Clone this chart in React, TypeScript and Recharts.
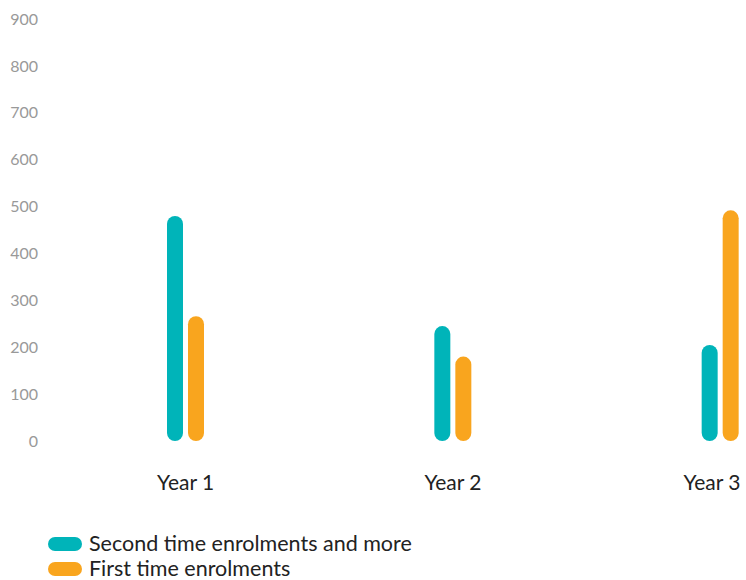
import React from 'react';
import { BarChart, Bar, XAxis, YAxis } from 'recharts';

const years = ['Year 1', 'Year 2', 'Year 3'];
const secondTime = [480, 245, 205];
const firstTime = [266, 180, 492];
const yTicks = [0, 100, 200, 300, 400, 500, 600, 700, 800, 900];

const SERIES = [
  { key: 'secondTime', name: 'Second time enrolments and more', color: '#00b4b9' },
  { key: 'firstTime', name: 'First time enrolments', color: '#f9a51e' },
];

const WIDTH = 746;
const FONT = 'Lato, "Open Sans", sans-serif';

const data = years.map((year, i) => ({
  year,
  secondTime: secondTime[i],
  firstTime: firstTime[i],
}));

// keep the last category label inside the canvas
const YearTick = (props: any) => {
  const { x, y, payload } = props;
  const half = 30;
  const cx = Math.min(x, WIDTH - half - 4);
  return (
    <text
      x={cx}
      y={y}
      dy={41}
      textAnchor="middle"
      fill="#222"
      fontSize={21}
      fontFamily={FONT}
    >
      {payload.value}
    </text>
  );
};

export default function App() {
  return (
    <div style={{ width: WIDTH, height: 580, fontFamily: FONT, overflow: 'hidden' }}>
      <style>{'body{margin:0}'}</style>
      <BarChart
        width={WIDTH}
        height={500}
        data={data}
        margin={{ top: 19, right: -108, left: 0, bottom: 0 }}
        barSize={16}
        barGap={5}
      >
        <YAxis
          domain={[0, 900]}
          ticks={yTicks}
          width={46}
          axisLine={false}
          tickLine={false}
          tick={{ fill: '#999', fontSize: 16, fontFamily: FONT }}
        />
        <XAxis
          dataKey="year"
          height={59}
          axisLine={false}
          tickLine={false}
          padding={{ left: 6, right: 0 }}
          tick={<YearTick />}
          interval={0}
        />
        {SERIES.map((s) => (
          <Bar
            key={s.key}
            dataKey={s.key}
            name={s.name}
            fill={s.color}
            radius={[8, 8, 8, 8]}
            isAnimationActive={false}
          />
        ))}
      </BarChart>
      <div style={{ marginLeft: 48, marginTop: 31 }}>
        {SERIES.map((s) => (
          <div
            key={s.key}
            style={{
              display: 'flex',
              alignItems: 'center',
              height: 25,
              lineHeight: '25px',
              fontSize: 21.5,
              color: '#222',
            }}
          >
            <span
              style={{
                display: 'inline-block',
                width: 34,
                height: 14,
                borderRadius: 7,
                background: s.color,
                marginRight: 7,
              }}
            />
            {s.name}
          </div>
        ))}
      </div>
    </div>
  );
}
